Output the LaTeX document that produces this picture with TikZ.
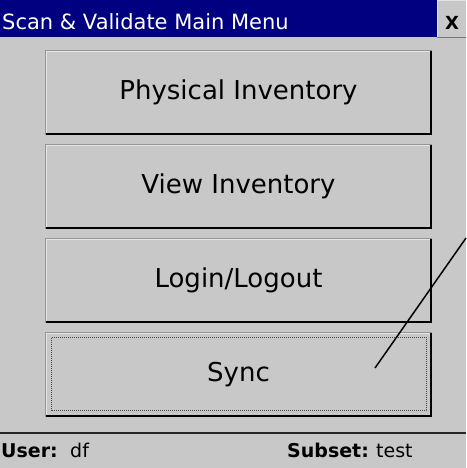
\documentclass[tikz,border=0pt]{standalone}
\usepackage{fontspec}
\setmainfont{DejaVu Sans}
\definecolor{bg}{RGB}{200,200,200}
\definecolor{titleblue}{RGB}{0,0,128}
\definecolor{edgemid}{RGB}{150,150,150}
\definecolor{edgelight}{RGB}{228,228,228}
\definecolor{edgedark}{RGB}{118,118,118}
\definecolor{dotgray}{RGB}{70,70,70}
\tikzset{
  btn/.style={rectangle, fill=bg, minimum width=387pt, minimum height=85pt,
    inner sep=0pt, text height=19pt, text depth=5pt,
    font=\fontsize{26}{30}\selectfont},
  titletext/.style={inner sep=0pt, text=white, font=\fontsize{21}{24}\selectfont},
  closetext/.style={inner sep=0pt, font=\fontsize{18}{20}\selectfont},
  statustext/.style={inner sep=0pt, font=\fontsize{19}{22}\selectfont},
  pointer/.style={line width=1.5pt, black},
}
\newcommand\drawbtnedges[1]{%
  \draw[line width=1pt, edgelight] ([xshift=1.5pt,yshift=1.5pt]#1.south west) |- ([xshift=-1.5pt,yshift=-1.5pt]#1.north east);
  \draw[line width=1pt, edgemid] ([xshift=0.5pt,yshift=0.5pt]#1.south west) |- ([xshift=-0.5pt,yshift=-0.5pt]#1.north east);
  \draw[line width=1pt, edgedark] ([xshift=2.2pt,yshift=2.2pt]#1.south west) -| ([xshift=-2.2pt,yshift=-2.2pt]#1.north east);
  \draw[line width=1.8pt, black] ([xshift=0.9pt,yshift=0.9pt]#1.south west) -| ([xshift=-0.9pt,yshift=-0.9pt]#1.north east);
}
\begin{document}
\begin{tikzpicture}[x=1pt, y=-1pt]
  \path[use as bounding box, fill=bg] (0,0) rectangle (466,468);
  % title bar
  \fill[titleblue] (0,0) rectangle (437,37.5);
  \node[titletext, anchor=base west] (title) at (2,30) {Scan \& Validate Main Menu};
  % close button
  \node[rectangle, fill=bg, minimum width=29pt, minimum height=37.5pt, inner sep=0pt] (closebtn) at (451.5,18.75) {};
  \draw[line width=1pt, edgelight] ([xshift=0.5pt,yshift=0.5pt]closebtn.south west) |- ([yshift=-0.5pt]closebtn.north east);
  \draw[line width=1pt, edgedark] ([xshift=0.5pt,yshift=0.5pt]closebtn.south west) -- ([yshift=0.5pt]closebtn.south east);
  \node[closetext, anchor=base] (closex) at (452,29.5) {\textbf{X}};
  % buttons
  \node[btn] (b1) at (238.5,92.5) {Physical Inventory};
  \node[btn] (b2) at (238.5,186.5) {View Inventory};
  \node[btn] (b3) at (238.5,280.5) {Login/Logout};
  \node[btn] (b4) at (238.5,374.5) {Sync};
  \drawbtnedges{b1}
  \drawbtnedges{b2}
  \drawbtnedges{b3}
  \drawbtnedges{b4}
  % focus rectangle
  \draw[line width=1pt, dotgray, dash pattern=on 1pt off 1pt]
    ([xshift=6.5pt,yshift=6.5pt]b4.south west) rectangle ([xshift=-5.5pt,yshift=-5.5pt]b4.north east);
  % pointer line
  \coordinate (pstart) at (466,238);
  \coordinate (pend) at (375,368);
  \draw[pointer] (pstart) -- (pend);
  % status bar
  \coordinate (sepl) at (0,433);
  \coordinate (sepr) at (466,433);
  \draw[line width=1.2pt, black!85] (sepl) -- (sepr);
  \node[statustext, anchor=base west] (userlbl) at (1,457) {\textbf{User:}};
  \node[statustext, anchor=base west] (userval) at (70,457) {df};
  \node[statustext, anchor=base west] (subsetlbl) at (287,457) {\textbf{Subset:}};
  \node[statustext, anchor=base west] (subsetval) at (376,457) {test};
\end{tikzpicture}
\end{document}
